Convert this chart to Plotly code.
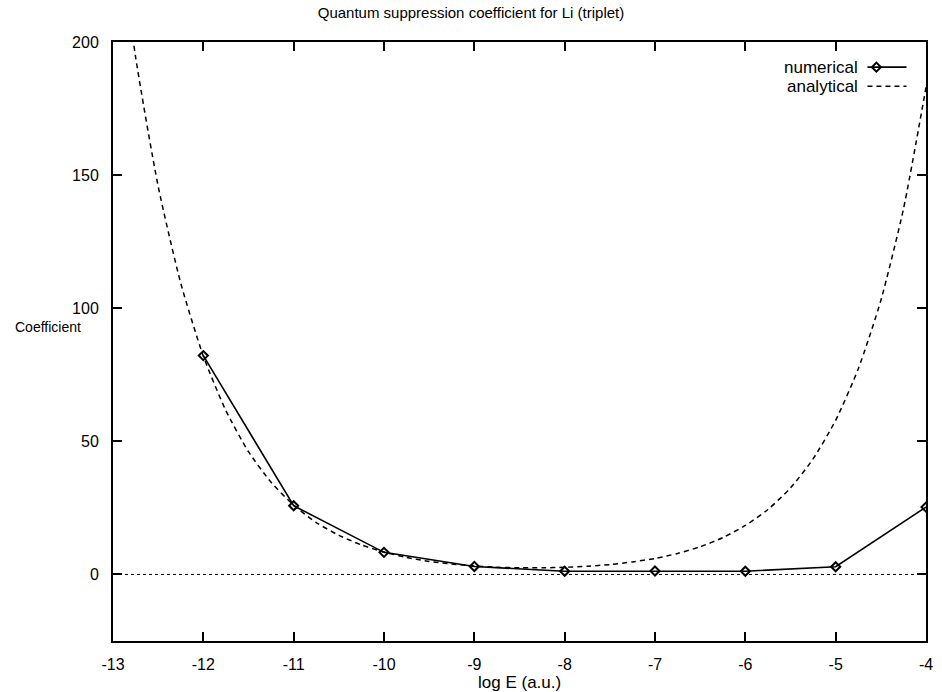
import plotly.graph_objects as go

# Numerical results
num_x = [-12, -11, -10, -9, -8, -7, -6, -5, -4]
num_y = [82.2, 25.8, 8.3, 3.0, 1.2, 1.3, 1.2, 2.9, 25.3]

ana_x = [-13.0, -12.75, -12.5, -12.25, -12.0, -11.75, -11.5, -11.25, -11.0,
         -10.75, -10.5, -10.25, -10.0, -9.75, -9.5, -9.25, -9.0, -8.75,
         -8.5, -8.25, -8.0, -7.75, -7.5, -7.25, -7.0, -6.75, -6.5, -6.25,
         -6.0, -5.75, -5.5, -5.25, -5.0, -4.75, -4.5, -4.25, -4.0]
ana_y = [259.0, 194.4, 145.8, 109.4, 82.0, 61.5, 46.1, 34.6, 26.0,
         19.5, 14.7, 11.1, 8.4, 6.4, 4.9, 3.9, 3.2, 2.7,
         2.5, 2.5, 2.7, 3.1, 3.7, 4.7, 6.0, 7.9, 10.4, 13.8,
         18.4, 24.4, 32.5, 43.4, 57.9, 77.2, 102.9, 137.2, 183.0]

x_ticks = [-13, -12, -11, -10, -9, -8, -7, -6, -5, -4]
x_tick_labels = ["-13", "-12", "-11", "-10", "-9", "-8", "-7", "-6", "-5", "-4"]
y_ticks = [0, 50, 100, 150, 200]
y_tick_labels = ["0", "50", "100", "150", "200"]
x_range = [-13, -4]
y_range = [-25, 200]

FONT = "Liberation Sans, Arial, Helvetica, sans-serif"
FS = 16

fig = go.Figure()

# zero axis (dotted)
fig.add_trace(go.Scatter(x=x_range, y=[0, 0], mode="lines",
                         line=dict(color="black", width=1, dash="dot"),
                         showlegend=False, hoverinfo="skip"))

fig.add_trace(go.Scatter(x=ana_x, y=ana_y, mode="lines", name="analytical",
                         line=dict(color="black", width=1.5, dash="5px,4px",
                                   shape="spline", smoothing=0.6),
                         showlegend=False))

fig.add_trace(go.Scatter(x=num_x, y=num_y, mode="lines+markers", name="numerical",
                         line=dict(color="black", width=1.6),
                         marker=dict(symbol="diamond-open", size=7, color="black",
                                     line=dict(width=2, color="black")),
                         showlegend=False))

# legend samples on an overlay axis (0..1 frame coordinates)
fig.add_trace(go.Scatter(x=[0.928, 0.976], y=[0.958, 0.958], mode="lines",
                         line=dict(color="black", width=1.6),
                         xaxis="x2", yaxis="y2", showlegend=False, hoverinfo="skip"))
fig.add_trace(go.Scatter(x=[0.939], y=[0.958], mode="markers",
                         marker=dict(symbol="diamond-open", size=7, color="black",
                                     line=dict(width=2, color="black")),
                         xaxis="x2", yaxis="y2", showlegend=False, hoverinfo="skip"))
fig.add_trace(go.Scatter(x=[0.928, 0.976], y=[0.926, 0.926], mode="lines",
                         line=dict(color="black", width=1.5, dash="5px,4px"),
                         xaxis="x2", yaxis="y2", showlegend=False, hoverinfo="skip"))

axis_common = dict(showline=True, linecolor="black", linewidth=2, mirror="ticks",
                   ticks="inside", ticklen=9, tickwidth=1.5, tickcolor="black",
                   showgrid=False, zeroline=False,
                   tickfont=dict(family=FONT, size=FS, color="black"))

fig.update_layout(
    width=942, height=692,
    margin=dict(l=113, r=9, t=42, b=51),
    paper_bgcolor="white", plot_bgcolor="white",
    title=dict(text="Quantum suppression coefficient for Li (triplet)",
               x=0.5, xanchor="center", y=0.982, yanchor="middle",
               font=dict(family=FONT, size=15, color="black")),
    xaxis=dict(range=x_range, tickvals=x_ticks, ticktext=x_tick_labels,
               ticklabelstandoff=8, **axis_common),
    yaxis=dict(range=y_range, tickvals=y_ticks, ticktext=y_tick_labels,
               ticklabelstandoff=9, **axis_common),
    xaxis2=dict(range=[0, 1], overlaying="x", visible=False, fixedrange=True),
    yaxis2=dict(range=[0, 1], overlaying="y", visible=False, fixedrange=True),
    annotations=[
        dict(text="log E (a.u.)", xref="paper", yref="paper", x=0.5, y=-0.070,
             xanchor="center", yanchor="middle", showarrow=False,
             font=dict(family=FONT, size=17, color="black")),
        dict(text="Coefficient", xref="paper", yref="paper", x=-0.0805, y=0.524,
             xanchor="center", yanchor="middle", showarrow=False,
             font=dict(family=FONT, size=14, color="black")),
        dict(text="numerical", xref="paper", yref="paper", x=0.919, y=0.958,
             xanchor="right", yanchor="middle", showarrow=False,
             font=dict(family=FONT, size=17, color="black")),
        dict(text="analytical", xref="paper", yref="paper", x=0.919, y=0.926,
             xanchor="right", yanchor="middle", showarrow=False,
             font=dict(family=FONT, size=17, color="black")),
    ],
)

fig.write_html("out.html")
